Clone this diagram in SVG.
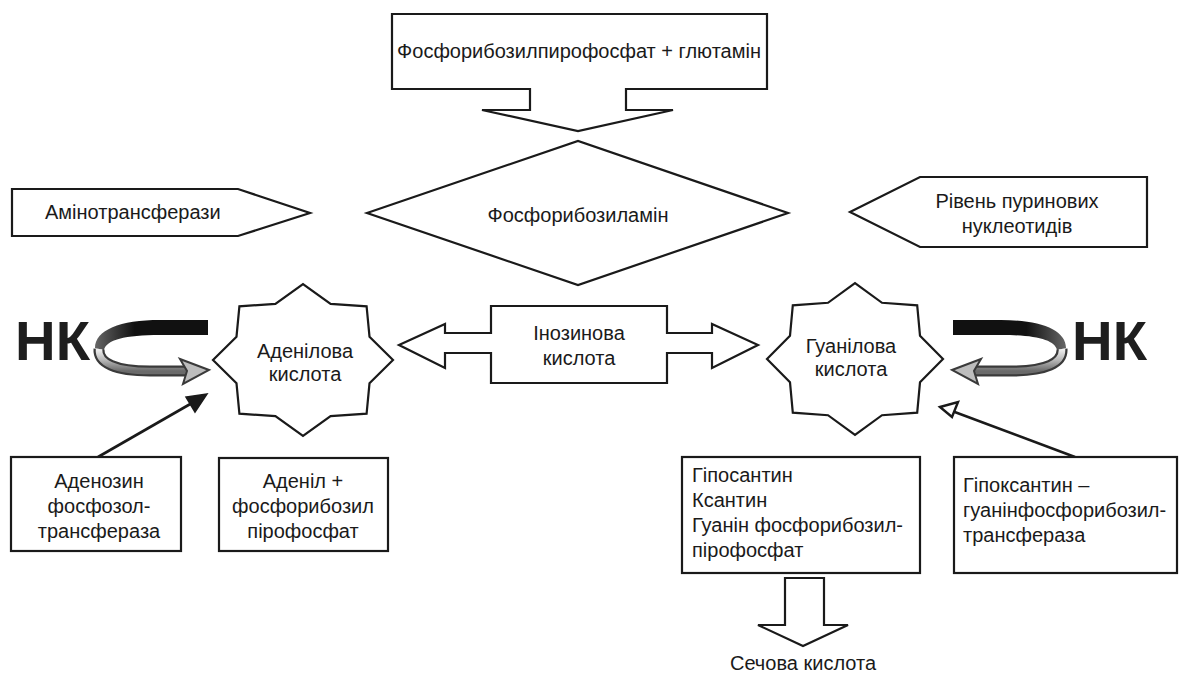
<svg xmlns="http://www.w3.org/2000/svg" xmlns:xlink="http://www.w3.org/1999/xlink" width="1189" height="673" viewBox="0 0 1189 673">
<style>
.s{fill:#fff;stroke:#1a1a1a;stroke-width:2.2;stroke-linejoin:miter}
.t{font-family:"Liberation Sans",Arial,sans-serif;font-size:20px;fill:#1a1a1a}
.c{text-anchor:middle}
.nk{font-family:"Liberation Sans",Arial,sans-serif;font-weight:bold;font-size:56px;fill:#1e1e1e}
.ln{stroke:#1a1a1a;stroke-width:2.6;fill:none}
</style>
<defs>
<linearGradient id="tube" x1="0" y1="0" x2="0" y2="1">
<stop offset="0" stop-color="#f2f2f2"/>
<stop offset="0.5" stop-color="#b8b8b8"/>
<stop offset="1" stop-color="#6a6a6a"/>
</linearGradient>
<linearGradient id="band" x1="0" y1="0" x2="1" y2="0">
<stop offset="0" stop-color="#666"/>
<stop offset="0.35" stop-color="#111"/>
<stop offset="1" stop-color="#111"/>
</linearGradient>
<g id="curl">
<path d="M208,320 L160,320 C120,320 95,330 95,348 L104,350 C106,340 125,335 160,335 L208,335 Z" fill="url(#band)"/>
<path d="M99,349 C98,363 115,371 150,371 L186,371" fill="none" stroke="#3a3a3a" stroke-width="11"/>
<path d="M99,349 C98,363 115,371 150,371 L187,371" fill="none" stroke="url(#tube)" stroke-width="6.5"/>
<path d="M180,359 L209,370 L183,384 L187,371 Z" fill="#bdbdbd" stroke="#3a3a3a" stroke-width="2"/>
</g>
</defs>

<g id="connectors">
<line class="ln" x1="98" y1="457" x2="192" y2="403"/>
<polygon points="207,394 186,397 195,412" fill="#1a1a1a" stroke="#1a1a1a" stroke-width="1.5"/>
<line class="ln" x1="1075" y1="457" x2="952" y2="411"/>
<polygon points="940,407 958,402 952,417" fill="#fff" stroke="#1a1a1a" stroke-width="2.4"/>
<use xlink:href="#curl"/>
<use xlink:href="#curl" transform="translate(1161,0) scale(-1,1)"/>
</g>

<g id="top-source">
<polygon class="s" points="392,14 767,14 767,89 626,89 626,110 673,110 578,131 482,110 530,110 530,89 392,89"/>
<text class="t c" x="579" y="58">Фосфорибозилпирофосфат + глютамін</text>
</g>

<g id="fosforibozylamin">
<polygon class="s" points="367,213 578,141 788,213 578,285"/>
<text class="t c" x="578" y="222">Фосфорибозиламін</text>
</g>

<g id="aminotransferazy">
<polygon class="s" points="12,189 238,189 310,213 238,236 12,236"/>
<text class="t" x="45" y="219">Амінотрансферази</text>
</g>

<g id="riven">
<polygon class="s" points="850,212 920,177 1147,177 1147,247 920,247"/>
<text class="t c" x="1017" y="208">Рівень пуринових</text>
<text class="t c" x="1017" y="233">нуклеотидів</text>
</g>

<g id="nk-left">
<text class="nk" x="15" y="360" textLength="75" lengthAdjust="spacingAndGlyphs">НК</text>
</g>
<g id="nk-right">
<text class="nk" x="1072" y="360" textLength="75" lengthAdjust="spacingAndGlyphs">НК</text>
</g>

<g id="adenilova">
<polygon class="s" points="393,360 369.5,383.3 366.6,413.7 330.6,416.2 303,436 275.4,416.2 239.4,413.7 236.5,383.3 213,360 236.5,336.7 239.4,306.3 275.4,303.8 303,284 330.6,303.8 366.6,306.3 369.5,336.7"/>
<text class="t c" x="305" y="358">Аденілова</text>
<text class="t c" x="305" y="381">кислота</text>
</g>

<g id="inozynova">
<polygon class="s" points="399,345 445,324 445,333 491,333 491,306 667,306 667,333 712,333 712,324 758,345 712,368 712,353 667,353 667,383 491,383 491,353 445,353 445,368"/>
<text class="t c" x="579" y="340">Інозинова</text>
<text class="t c" x="579" y="365">кислота</text>
</g>

<g id="guanilova">
<polygon class="s" points="943,359 920,382.3 917.2,412.7 882,415.2 855,435 828,415.2 792.8,412.7 790,382.3 767,359 790,335.7 792.8,305.3 828,302.8 855,283 882,302.8 917.2,305.3 920,335.7"/>
<text class="t c" x="851" y="353">Гуанілова</text>
<text class="t c" x="851" y="376">кислота</text>
</g>

<g id="adenozyn">
<rect class="s" x="11" y="457" width="170" height="94"/>
<text class="t c" x="99" y="488">Аденозин</text>
<text class="t c" x="99" y="513">фосфозол-</text>
<text class="t c" x="99" y="538">трансфераза</text>
</g>

<g id="adenil">
<rect class="s" x="219" y="458" width="169" height="93"/>
<text class="t c" x="303" y="488">Аденіл +</text>
<text class="t c" x="303" y="513">фосфорибозил</text>
<text class="t c" x="303" y="538">пірофосфат</text>
</g>

<g id="hiposantyn">
<rect class="s" x="682" y="457" width="238" height="116"/>
<text class="t" x="692" y="482">Гіпосантин</text>
<text class="t" x="692" y="507">Ксантин</text>
<text class="t" x="692" y="532">Гуанін фосфорибозил-</text>
<text class="t" x="692" y="557">пірофосфат</text>
</g>

<g id="hipoksantyn">
<rect class="s" x="954" y="457" width="223" height="116"/>
<text class="t" x="963" y="492">Гіпоксантин –</text>
<text class="t" x="963" y="517">гуанінфосфорибозил-</text>
<text class="t" x="963" y="542">трансфераза</text>
</g>

<g id="sechova">
<polygon class="s" points="785,578 824,578 824,625 848,625 803,646 758,625 785,625"/>
<text class="t c" x="803" y="670">Сечова кислота</text>
</g>
</svg>
